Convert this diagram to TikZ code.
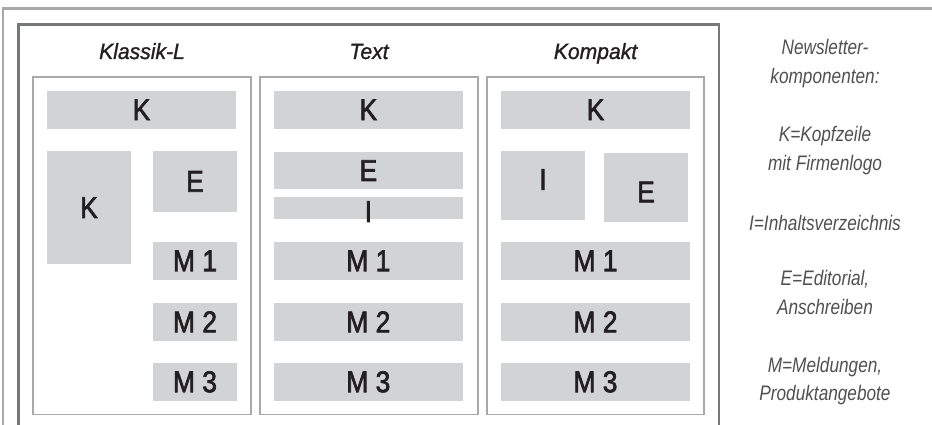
\documentclass[tikz,border=0pt]{standalone}
\usepackage{fontspec}
\setmainfont{Liberation Sans}
\newfontfamily\blockfont[FakeStretch=0.88,FakeBold=2.2]{Liberation Sans}
\newfontfamily\titlefont[FakeStretch=0.96,FakeBold=1.2]{Liberation Sans}
\newfontfamily\legendfont[FakeStretch=0.82]{Liberation Sans}
\definecolor{blockgray}{HTML}{D1D3D4}
\definecolor{boxline}{HTML}{A7A9AC}
\definecolor{outerline}{HTML}{A7A9AC}
\definecolor{innerline}{HTML}{77787B}
\definecolor{ink}{HTML}{231F20}
\definecolor{legendink}{HTML}{505052}
\begin{document}
\begin{tikzpicture}[x=1pt, y=-1pt,
  blk/.style 2 args={fill=blockgray, draw=none, inner sep=0pt, text=ink,
    minimum width=#1, minimum height=#2,
    font=\blockfont\fontsize{30}{30}\selectfont},
  lbl/.style={inner sep=0pt, text=ink, font=\blockfont\fontsize{30}{30}\selectfont},
  colbox/.style={draw=boxline, line width=1.4pt, inner sep=0pt,
    minimum width=218pt, minimum height=337.5pt},
  coltitle/.style={anchor=base, inner sep=0pt, text=ink,
    font=\titlefont\itshape\fontsize{22}{22}\selectfont},
  legend/.style={anchor=base, inner sep=0pt, text=legendink,
    font=\legendfont\itshape\fontsize{21}{21}\selectfont}]
\useasboundingbox (0,0) rectangle (932,425);

% frames
\draw[outerline, line width=2.2pt] (932,8.5) -- (3,8.5) -- (3,425);
\draw[innerline, line width=2.8pt] (18.7,425) -- (18.7,24.7) -- (719,24.7) -- (719,425);

% column frames
\node[colbox] (kBox) at (142,245.75) {};
\node[colbox] (tBox) at (369,245.75) {};
\node[colbox, minimum width=217pt] (cBox) at (595.5,245.75) {};

% column titles
\node[coltitle] (kTitle) at (142,59) {Klassik-L};
\node[coltitle] (tTitle) at (369,59) {Text};
\node[coltitle] (cTitle) at (595.5,59) {Kompakt};

% Klassik-L
\node[blk={189pt}{37.7pt}] (kK) at (141.5,109.85) {K};
\node[blk={84pt}{113.3pt}] (kK2) at (89,207.65) {K};
\node[blk={84pt}{60.7pt}] (kE) at (195,181.35) {E};
\node[blk={84pt}{37.7pt}] (kM1) at (195,260.85) {M 1};
\node[blk={84pt}{37.7pt}] (kM2) at (195,321.85) {M 2};
\node[blk={84pt}{37.7pt}] (kM3) at (195,381.85) {M 3};

% Text
\node[blk={188.7pt}{37.7pt}] (tK) at (368.35,109.85) {K};
\node[blk={188.7pt}{37.3pt}] (tE) at (368.35,170.65) {E};
\node[blk={188.7pt}{22.3pt}] (tI) at (368.35,208.15) {};
\node[lbl] (tIlabel) at ([yshift=-3.5pt]tI.center) {I};
\node[blk={188.7pt}{37.7pt}] (tM1) at (368.35,260.85) {M 1};
\node[blk={188.7pt}{37.7pt}] (tM2) at (368.35,321.85) {M 2};
\node[blk={188.7pt}{37.7pt}] (tM3) at (368.35,381.85) {M 3};

% Kompakt
\node[blk={189pt}{37.7pt}] (cK) at (595.5,109.85) {K};
\node[blk={84pt}{69pt}] (cI) at (543,185.5) {};
\node[lbl] (cIlabel) at ([yshift=6pt]cI.center) {I};
\node[blk={84pt}{69pt}] (cE) at (646,187.5) {};
\node[lbl] (cElabel) at ([yshift=-4.5pt]cE.center) {E};
\node[blk={189pt}{37.7pt}] (cM1) at (595.5,260.85) {M 1};
\node[blk={189pt}{37.7pt}] (cM2) at (595.5,321.85) {M 2};
\node[blk={189pt}{37.7pt}] (cM3) at (595.5,381.85) {M 3};

% legend
\node[legend] (lg1) at (825,55) {Newsletter-};
\node[legend] (lg2) at (825,84) {komponenten:};
\node[legend] (lg3) at (825,141.5) {K=Kopfzeile};
\node[legend] (lg4) at (825,170.5) {mit Firmenlogo};
\node[legend] (lg5) at (825,230) {I=Inhaltsverzeichnis};
\node[legend] (lg6) at (825,285) {E=Editorial,};
\node[legend] (lg7) at (825,314) {Anschreiben};
\node[legend] (lg8) at (825,372) {M=Meldungen,};
\node[legend] (lg9) at (825,400) {Produktangebote};
\end{tikzpicture}
\end{document}
